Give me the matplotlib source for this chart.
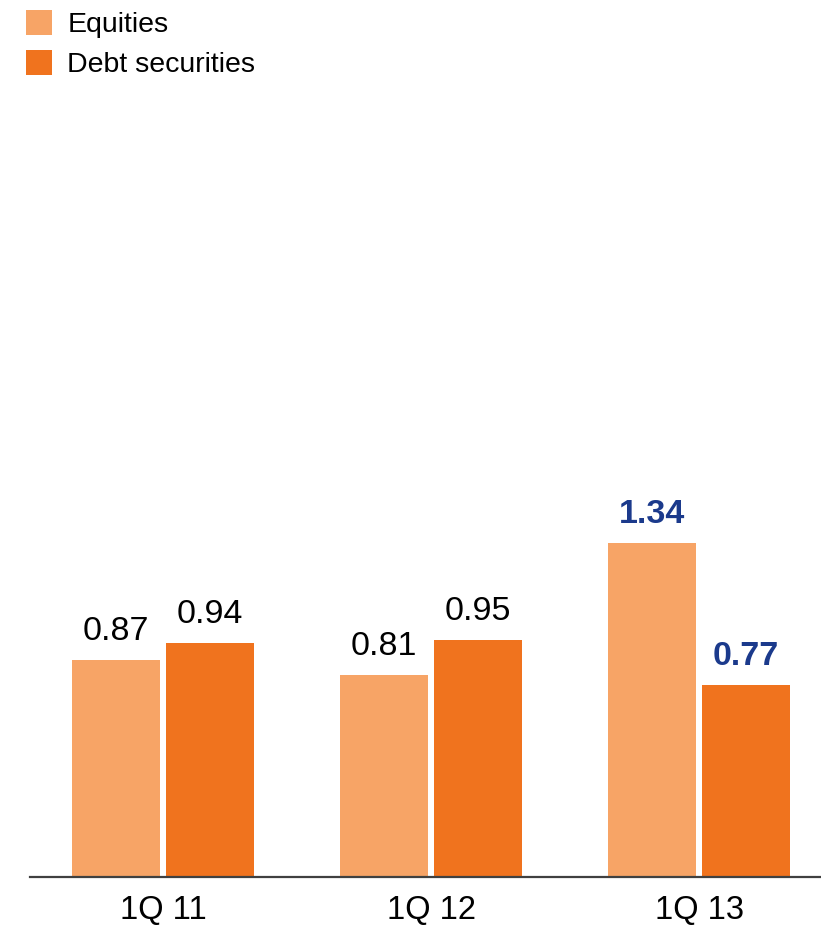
import matplotlib
matplotlib.use("Agg")
import matplotlib.pyplot as plt
from matplotlib.patches import Patch

plt.rcParams['font.family'] = ['Liberation Sans', 'DejaVu Sans']

quarters = ["1Q 11", "1Q 12", "1Q 13"]
equities = [0.87, 0.81, 1.34]
debt_securities = [0.94, 0.95, 0.77]
highlight = [False, False, True]

col_eq = "#F7A466"
col_debt = "#F0731E"
col_hl = "#1B3A8C"

W, H = 821, 927
fig = plt.figure(figsize=(W / 100, H / 100), dpi=100)

# axes geometry in pixels
left_px, right_px = 30, 821
base_px, top_px = 877, 100
px_per_unit = 249.0
ax = fig.add_axes([left_px / W, (H - base_px) / H,
                   (right_px - left_px) / W, (base_px - top_px) / H])

group_px = 268.0
first_center = 163.0
xs = list(range(len(quarters)))
bw = 88 / group_px
off = 47 / group_px

ax.bar([x - off for x in xs], equities, width=bw, color=col_eq, edgecolor='none')
ax.bar([x + off for x in xs], debt_securities, width=bw, color=col_debt, edgecolor='none')

ax.set_xlim((left_px - first_center) / group_px, (right_px - first_center) / group_px)
ax.set_ylim(0, (base_px - top_px) / px_per_unit)

for i, x in enumerate(xs):
    for xpos, val in ((x - off, equities[i]), (x + off, debt_securities[i])):
        if highlight[i]:
            kw = dict(color=col_hl, fontweight='bold')
        else:
            kw = dict(color='black')
        ax.annotate(f"{val:.2f}", (xpos, val), xytext=(0, 14.5), textcoords='offset points',
                    ha='center', va='baseline', fontsize=24.5, **kw)

for s in ('top', 'right', 'left'):
    ax.spines[s].set_visible(False)
ax.spines['bottom'].set_color('#404040')
ax.spines['bottom'].set_linewidth(1.6)
ax.set_yticks([])
ax.set_xticks(xs)
ax.set_xticklabels(quarters, fontsize=23.5)
ax.tick_params(axis='x', length=0, pad=13)

handles = [Patch(facecolor=col_eq, edgecolor='none', label='Equities'),
           Patch(facecolor=col_debt, edgecolor='none', label='Debt securities')]
fig.legend(handles=handles, loc='upper left', bbox_to_anchor=(26 / W, 1 - 10 / H),
           frameon=False, fontsize=20.5, handlelength=0.9, handleheight=0.95,
           handletextpad=0.55, labelspacing=0.42, borderaxespad=0, borderpad=0)

fig.savefig("out.png", dpi=100)
